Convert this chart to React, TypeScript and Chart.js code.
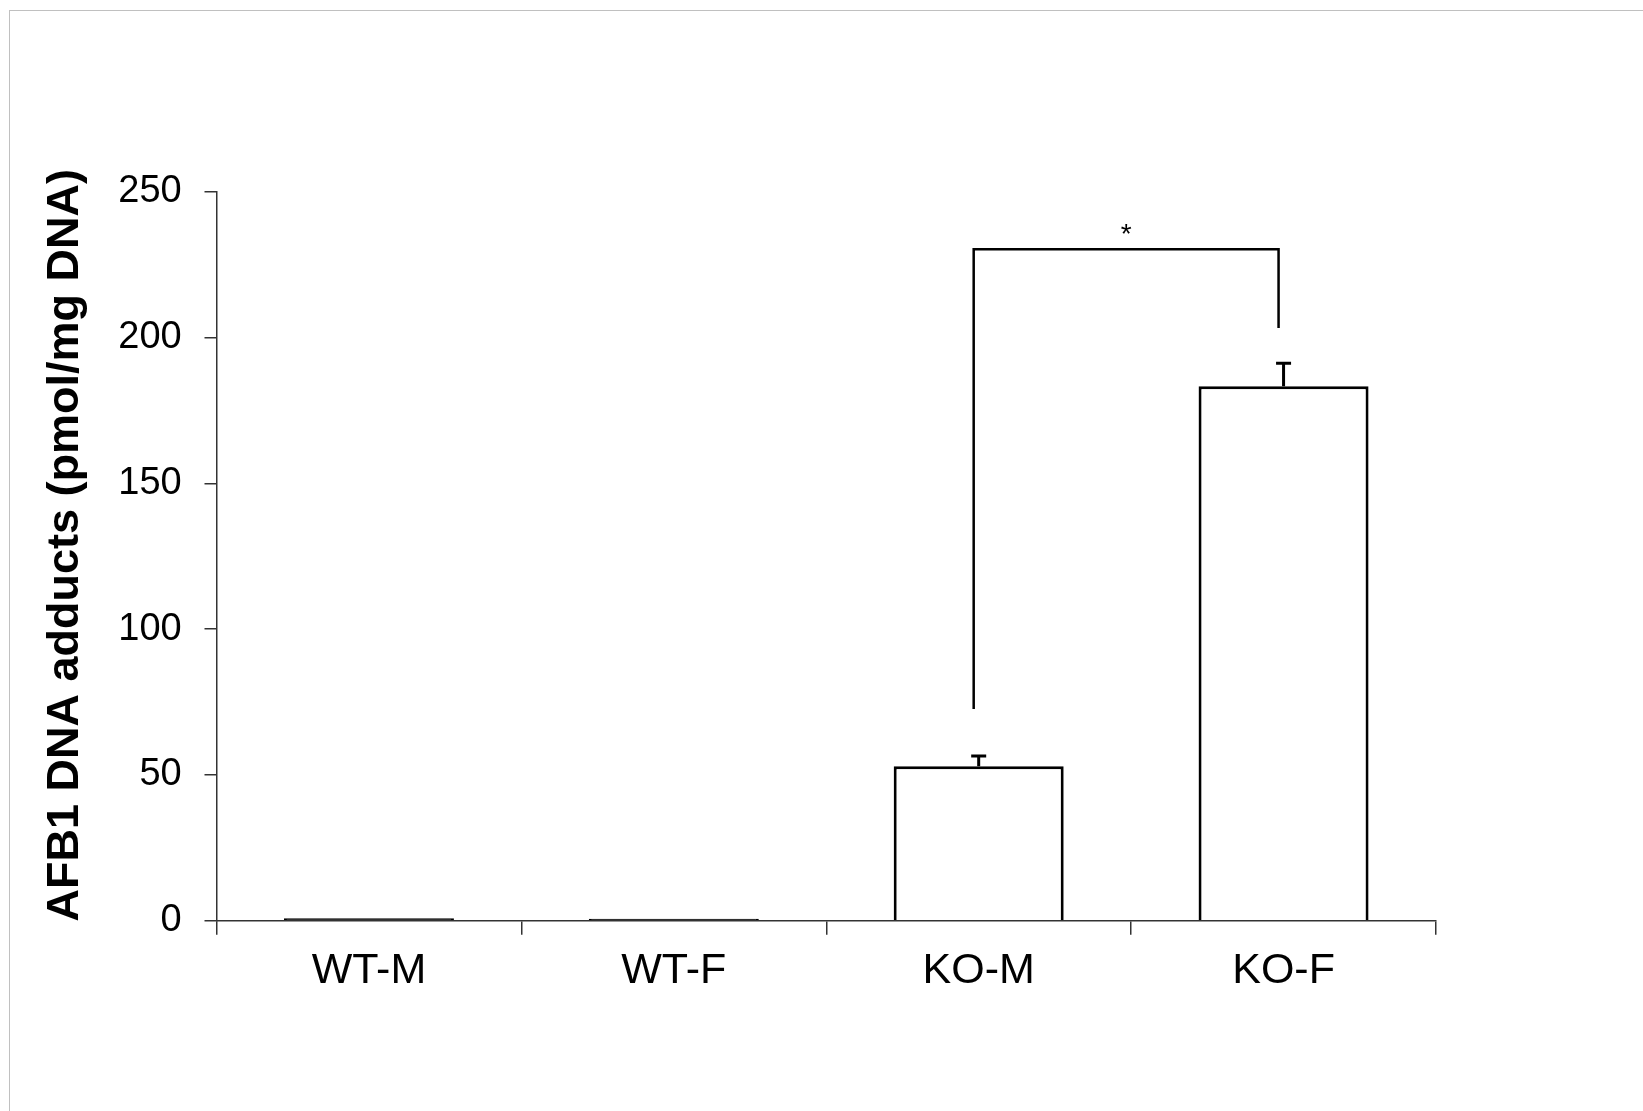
import React, { useEffect, useRef } from "react";
import { Chart, registerables } from "chart.js";

Chart.register(...registerables);

const categories = ["WT-M", "WT-F", "KO-M", "KO-F"];
const means = [0.8, 0.7, 53, 183.3];
const errors = [0, 0, 3.5, 7.9];
const yTicks = [0, 50, 100, 150, 200, 250];
const yTitle = "AFB1 DNA adducts (pmol/mg DNA)";
// significance bracket: from category index 2 to 3
const bracket = { from: 2, to: 3, top: 230.3, leftBottom: 72.6, rightBottom: 203.3, label: "*" };

const FONT = "'Liberation Sans', Arial, Helvetica, sans-serif";
const AXIS = "#333333";

const overlayPlugin = {
  id: "overlay",
  afterDatasetsDraw(chart: any) {
    const { ctx, chartArea } = chart;
    const xS = chart.scales.x;
    const yS = chart.scales.y;
    const meta = chart.getDatasetMeta(0);
    ctx.save();
    // error bars
    ctx.strokeStyle = "#000";
    ctx.lineWidth = 3;
    meta.data.forEach((el: any, i: number) => {
      if (!errors[i]) return;
      const x = el.x;
      const y0 = el.y;
      const y1 = yS.getPixelForValue(means[i] + errors[i]);
      ctx.beginPath();
      ctx.moveTo(x, y0);
      ctx.lineTo(x, y1);
      ctx.moveTo(x - 7.5, y1);
      ctx.lineTo(x + 7.5, y1);
      ctx.stroke();
    });
    // bracket
    const off = -5;
    const xl = xS.getPixelForValue(bracket.from) + off;
    const xr = xS.getPixelForValue(bracket.to) + off;
    const yt = yS.getPixelForValue(bracket.top);
    ctx.lineWidth = 2.5;
    ctx.beginPath();
    ctx.moveTo(xl, yS.getPixelForValue(bracket.leftBottom));
    ctx.lineTo(xl, yt);
    ctx.lineTo(xr, yt);
    ctx.lineTo(xr, yS.getPixelForValue(bracket.rightBottom));
    ctx.stroke();
    ctx.fillStyle = "#000";
    ctx.font = `28px ${FONT}`;
    ctx.textAlign = "center";
    ctx.textBaseline = "alphabetic";
    ctx.fillText(bracket.label, (xl + xr) / 2, yt - 6);
    // y title
    ctx.font = `bold 45px ${FONT}`;
    ctx.translate(66, (chartArea.top + chartArea.bottom) / 2 - 11);
    ctx.rotate(-Math.PI / 2);
    ctx.textAlign = "center";
    ctx.textBaseline = "middle";
    ctx.fillText(yTitle, 0, 0);
    ctx.restore();
  },
};

export default function App() {
  const ref = useRef<HTMLCanvasElement | null>(null);
  useEffect(() => {
    if (!ref.current) return;
    const chart = new Chart(ref.current, {
      type: "bar",
      data: {
        labels: categories,
        datasets: [
          {
            data: means,
            backgroundColor: ["#000000", "#000000", "#ffffff", "#ffffff"],
            borderColor: "#000000",
            borderWidth: 3,
            barPercentage: 0.5576,
            categoryPercentage: 1,
          },
        ],
      },
      options: {
        responsive: false,
        animation: false,
        layout: { padding: { left: 0, top: 191.7, right: 207, bottom: 0 } },
        plugins: { legend: { display: false }, tooltip: { enabled: false }, title: { display: false } },
        scales: {
          x: {
            offset: true,
            grid: { offset: true, drawOnChartArea: false, drawTicks: true, tickLength: 14, color: AXIS, lineWidth: 1.5 },
            border: { display: true, color: AXIS, width: 1.5 },
            ticks: { color: "#000", font: { family: FONT, size: 43 }, padding: 10.5 },
            afterFit: (s: any) => {
              s.height = 1111 - 920.7;
            },
          },
          y: {
            min: 0,
            max: 250,
            afterBuildTicks: (s: any) => {
              s.ticks = yTicks.map((v) => ({ value: v }));
            },
            grid: { drawOnChartArea: false, drawTicks: true, tickLength: 12, color: AXIS, lineWidth: 1.5 },
            border: { display: true, color: AXIS, width: 1.5 },
            ticks: { color: "#000", font: { family: FONT, size: 38 }, padding: 22.8 },
            afterFit: (s: any) => {
              s.width = 216.5;
            },
          },
        },
      },
      plugins: [overlayPlugin],
    });
    return () => chart.destroy();
  }, []);
  return (
    <div style={{ position: "absolute", left: 0, top: 0, width: 1643, height: 1111, background: "#fff" }}>
      <div
        style={{
          position: "absolute",
          left: 9,
          top: 10,
          right: 0,
          bottom: 0,
          borderTop: "1px solid #c0c0c0",
          borderLeft: "1px solid #c0c0c0",
        }}
      />
      <canvas ref={ref} width={1643} height={1111} style={{ position: "absolute", left: 0, top: 0 }} />
    </div>
  );
}
